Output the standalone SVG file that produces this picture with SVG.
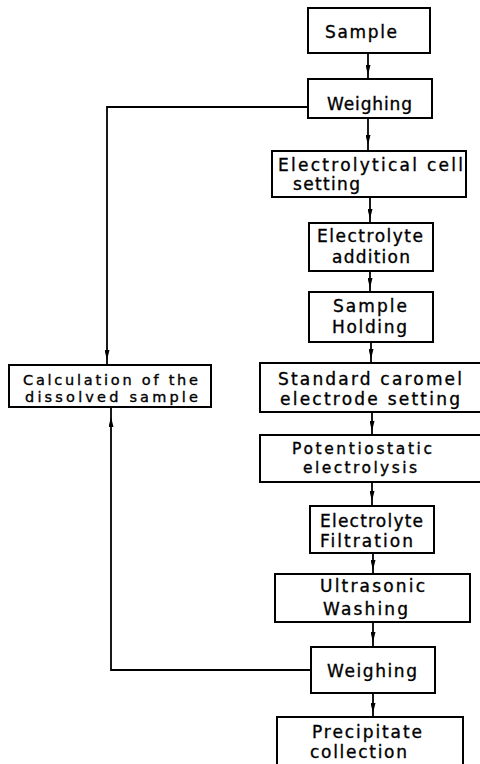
<svg xmlns="http://www.w3.org/2000/svg" width="480" height="764" viewBox="0 0 480 764">
<style>
.b{fill:#fff;stroke:#000;stroke-width:2}
.t{font-family:"DejaVu Sans",sans-serif;font-size:17px;fill:#000;stroke:#000;stroke-width:0.35}
.s{font-size:14.5px}
.m{font-size:15.5px}
.c{fill:none;stroke:#000;stroke-width:1.8}
</style>
<defs>
<marker id="ah" viewBox="0 0 10 5" markerWidth="10" markerHeight="5" markerUnits="userSpaceOnUse" refX="10" refY="2.5" orient="auto">
<path d="M0,0 L10,2.5 L0,5 z" fill="#000"/>
</marker>
</defs>
<rect width="480" height="764" fill="#fff"/>
<g id="connectors">
<path class="c" d="M368 53 V75" marker-end="url(#ah)"/><path class="c" d="M368 75 V79"/>
<path class="c" d="M368 118 V145" marker-end="url(#ah)"/><path class="c" d="M368 145 V151"/>
<path class="c" d="M370 197 V219" marker-end="url(#ah)"/><path class="c" d="M370 219 V223"/>
<path class="c" d="M370 271 V288" marker-end="url(#ah)"/><path class="c" d="M370 288 V292"/>
<path class="c" d="M371 342 V359" marker-end="url(#ah)"/><path class="c" d="M371 359 V363"/>
<path class="c" d="M372 412 V431" marker-end="url(#ah)"/><path class="c" d="M372 431 V435"/>
<path class="c" d="M372 482 V501" marker-end="url(#ah)"/><path class="c" d="M372 501 V506"/>
<path class="c" d="M373 553 V570" marker-end="url(#ah)"/><path class="c" d="M373 570 V574"/>
<path class="c" d="M373 622 V642" marker-end="url(#ah)"/><path class="c" d="M373 642 V647"/>
<path class="c" d="M373 693 V713" marker-end="url(#ah)"/><path class="c" d="M373 713 V717"/>
<path class="c" d="M308 107 H107 V360" marker-end="url(#ah)"/><path class="c" d="M107 360 V365"/>
<path class="c" d="M311 670 H111 V417" marker-end="url(#ah)"/><path class="c" d="M111 417 V407"/>
</g>
<g id="sample"><rect class="b" x="308" y="8" width="122" height="45"/><text class="t" x="325" y="38" textLength="72">Sample</text></g>
<g id="weighing1"><rect class="b" x="308" y="79" width="124" height="39"/><text class="t" x="327" y="110" textLength="85">Weighing</text></g>
<g id="cell"><rect class="b" x="272" y="151" width="194" height="46"/><text class="t" x="278" y="171" textLength="185">Electrolytical cell</text><text class="t" x="293" y="190" textLength="67">setting</text></g>
<g id="addition"><rect class="b" x="309" y="223" width="124" height="48"/><text class="t" x="317" y="242" textLength="106">Electrolyte</text><text class="t" x="332" y="263" textLength="78">addition</text></g>
<g id="holding"><rect class="b" x="309" y="292" width="124" height="50"/><text class="t" x="333" y="312" textLength="74">Sample</text><text class="t" x="332" y="333" textLength="75">Holding</text></g>
<g id="calomel"><rect class="b" x="260" y="363" width="224" height="49"/><text class="t" x="278" y="385" textLength="184">Standard caromel</text><text class="t" x="280" y="405" textLength="180">electrode setting</text></g>
<g id="potentio"><rect class="b" x="260" y="435" width="224" height="47"/><text class="t m" x="292" y="454" textLength="140">Potentiostatic</text><text class="t m" x="303" y="473" textLength="114">electrolysis</text></g>
<g id="filtration"><rect class="b" x="310" y="506" width="124" height="47"/><text class="t" x="320" y="527" textLength="103">Electrolyte</text><text class="t" x="320" y="547" textLength="93">Filtration</text></g>
<g id="ultrasonic"><rect class="b" x="275" y="574" width="195" height="48"/><text class="t" x="320" y="592" textLength="105">Ultrasonic</text><text class="t" x="323" y="615" textLength="85">Washing</text></g>
<g id="weighing2"><rect class="b" x="311" y="647" width="124" height="46"/><text class="t" x="327" y="677" textLength="90">Weighing</text></g>
<g id="precipitate"><rect class="b" x="277" y="717" width="186" height="50"/><text class="t" x="312" y="738" textLength="110">Precipitate</text><text class="t" x="310" y="758" textLength="97">collection</text></g>
<g id="calculation"><rect class="b" x="9" y="365" width="202" height="42"/><text class="t s" x="23" y="385" textLength="175">Calculation of the</text><text class="t s" x="25" y="402" textLength="173">dissolved sample</text></g>
</svg>
